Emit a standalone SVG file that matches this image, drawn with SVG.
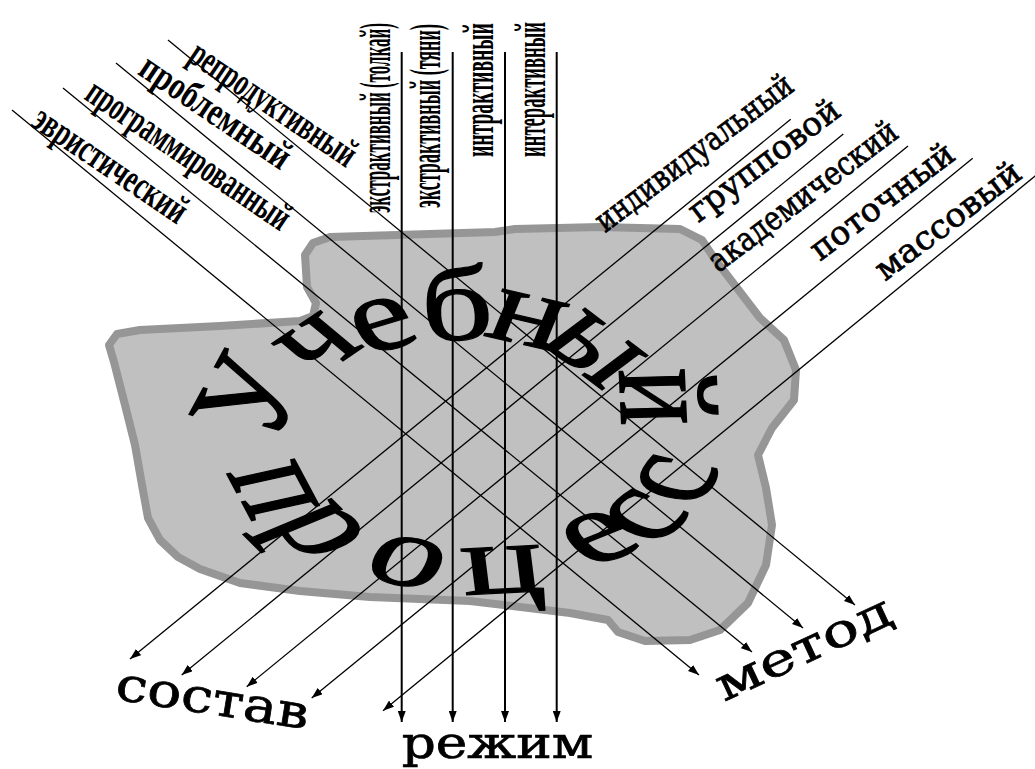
<svg xmlns="http://www.w3.org/2000/svg" width="1035" height="769" viewBox="0 0 1035 769">
<defs>
<marker id="ah" markerWidth="11" markerHeight="8" refX="11" refY="4" orient="auto" markerUnits="userSpaceOnUse"><path d="M0,0 L11,4 L0,8 z" fill="#000"/></marker>
</defs>
<style>
.ln{stroke:#000;stroke-width:1.3;fill:none;marker-end:url(#ah)}
.vl{stroke:#000;stroke-width:2;fill:none;marker-end:url(#ah)}
.cond{font-family:"Liberation Serif","Times New Roman",serif;font-weight:bold;fill:#000}
.wide{font-family:"DejaVu Serif","Liberation Serif",serif;fill:#000;stroke:#000;stroke-width:0.7}
.big{font-family:"Liberation Serif","Times New Roman",serif;fill:#000;stroke:#000;stroke-width:1.2}
</style>
<rect width="1035" height="769" fill="#fff"/>
<g id="blob">
<path d="M313,243 L330,237 L430,234 L495,232 L515,229 L600,227 L680,229 L702,240 L714,258 L760,318 L784,340 L796,370 L794,400 L772,428 L758,455 L766,488 L772,525 L766,565 L748,603 L720,630 L690,640 L645,641 L618,632 L608,620 L570,613 L470,601 L370,597 L300,591 L240,583 L200,569 L178,557 L160,540 L148,518 L142,485 L135,445 L125,405 L114,362 L109,345 L117,334 L140,330 L220,326 L300,321 L313,316 L316,303 L307,287 L305,255 Z" fill="#c0c0c0" stroke="#969696" stroke-width="8" stroke-linejoin="round"/>
</g>
<g id="title">
<g transform="matrix(1.33,0,0,1,-133.8,0)"><text class="big" font-size="106" x="305.9 336.31 375.91 418.85 462.55 504.79 566.27" y="443.6 380.84 356.41 340.89 335.01 341.36 369.5" rotate="-68 -42 -22 -3 17 45 88">Учебный</text></g>
<g transform="matrix(1.55,0,0,1,-248.05,0)"><text class="big" font-size="100" x="305.77 333.86 391.68 459.5 540 582 610.5" y="472.19 521.49 576.02 595.06 569 548 508.5" rotate="71 57.2 18.2 -4.6 -32 -54.4 -69.6">процесс</text></g>
</g>
<g id="connectors">
<line class="ln" x1="168" y1="40" x2="855" y2="605"/>
<line class="ln" x1="116" y1="63" x2="803" y2="628"/>
<line class="ln" x1="63" y1="88" x2="752" y2="652"/>
<line class="ln" x1="12" y1="110" x2="699" y2="675"/>
<line class="ln" x1="790.7" y1="119.3" x2="130" y2="659"/>
<line class="ln" x1="843.3" y1="134" x2="181.7" y2="675"/>
<line class="ln" x1="908" y1="146" x2="246.7" y2="686.7"/>
<line class="ln" x1="972.7" y1="158.3" x2="311.7" y2="698"/>
<line class="ln" x1="1040" y1="172" x2="383" y2="710.7"/>
<line class="vl" x1="401.7" y1="52" x2="401.7" y2="722"/>
<line class="vl" x1="452.7" y1="52" x2="452.7" y2="722"/>
<line class="vl" x1="505" y1="52" x2="505" y2="722"/>
<line class="vl" x1="556.7" y1="52" x2="556.7" y2="722"/>
</g>
<g id="lbl-reprod" transform="translate(186.4,60.3) rotate(34)"><text class="cond" font-size="40" textLength="193" lengthAdjust="spacingAndGlyphs">репродуктивный</text></g>
<g id="lbl-problem" transform="translate(136.4,73.6) rotate(34)"><text class="cond" font-size="40" textLength="174" lengthAdjust="spacingAndGlyphs">проблемный</text></g>
<g id="lbl-program" transform="translate(83,98.6) rotate(34)"><text class="cond" font-size="40" textLength="238" lengthAdjust="spacingAndGlyphs">программированный</text></g>
<g id="lbl-heur" transform="translate(29.7,125.3) rotate(34)"><text class="cond" font-size="40" textLength="178" lengthAdjust="spacingAndGlyphs">эвристический</text></g>
<g id="lbl-extra1" transform="translate(390,213) rotate(-90) scale(0.393,1)"><text class="cond" font-size="44" textLength="483.5" lengthAdjust="spacingAndGlyphs">экстрактивный (толкай)</text></g>
<g id="lbl-extra2" transform="translate(440,208) rotate(-90) scale(0.418,1)"><text class="cond" font-size="44" textLength="440" lengthAdjust="spacingAndGlyphs">экстрактивный (тяни)</text></g>
<g id="lbl-intra" transform="translate(493,157) rotate(-90) scale(0.459,1)"><text class="cond" font-size="44" textLength="291.7" lengthAdjust="spacingAndGlyphs">интрактивный</text></g>
<g id="lbl-inter" transform="translate(545,157) rotate(-90) scale(0.433,1)"><text class="cond" font-size="44" textLength="312" lengthAdjust="spacingAndGlyphs">интерактивный</text></g>
<g id="lbl-indiv" transform="translate(605,233.3) rotate(-37)"><text class="wide" font-size="33" textLength="239" lengthAdjust="spacingAndGlyphs">индивидуальный</text></g>
<g id="lbl-group" transform="translate(698.3,223.3) rotate(-37)"><text class="wide" font-size="33" textLength="181" lengthAdjust="spacingAndGlyphs">групповой</text></g>
<g id="lbl-acad" transform="translate(718.3,273.3) rotate(-37)"><text class="wide" font-size="33" textLength="228" lengthAdjust="spacingAndGlyphs">академический</text></g>
<g id="lbl-flow" transform="translate(820,261.7) rotate(-37)"><text class="wide" font-size="33" textLength="172" lengthAdjust="spacingAndGlyphs">поточный</text></g>
<g id="lbl-mass" transform="translate(885,281.7) rotate(-37)"><text class="wide" font-size="33" textLength="174" lengthAdjust="spacingAndGlyphs">массовый</text></g>
<g id="lbl-sostav" transform="translate(114,699) rotate(9)"><text class="wide" font-size="47" textLength="195" lengthAdjust="spacingAndGlyphs">состав</text></g>
<g id="lbl-rezhim"><text class="wide" x="401.7" y="758.3" font-size="44" textLength="191.6" lengthAdjust="spacingAndGlyphs">режим</text></g>
<g id="lbl-metod" transform="translate(724,702) rotate(-25)"><text class="wide" font-size="46" textLength="190" lengthAdjust="spacingAndGlyphs">метод</text></g>
</svg>
